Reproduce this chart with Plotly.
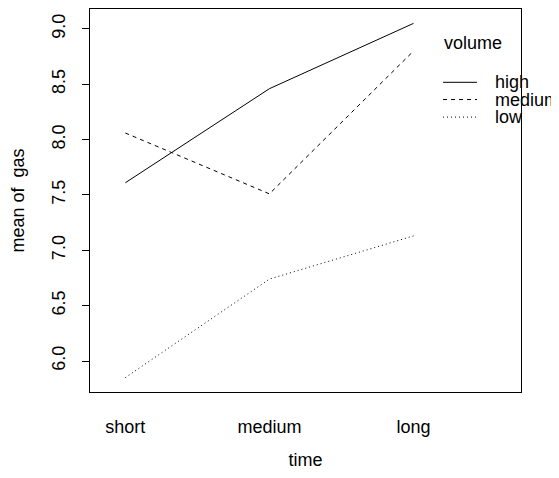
import plotly.graph_objects as go

time_levels = ["short", "medium", "long"]
volume_levels = ["high", "medium", "low"]
high = [7.61, 8.46, 9.05]
medium = [8.06, 7.51, 8.80]
low = [5.85, 6.74, 7.13]
series = [high, medium, low]
dashes = ["solid", "4px,4px", "1px,3px"]
y_ticks = [6.0, 6.5, 7.0, 7.5, 8.0, 8.5, 9.0]

FONT = "Liberation Sans, Arial, Helvetica, sans-serif"
FS = 18

fig = go.Figure()
for name, vals, dash in zip(volume_levels, series, dashes):
    fig.add_trace(go.Scatter(
        x=time_levels, y=vals, mode="lines", name=name,
        line=dict(color="black", width=1, dash=dash),
        showlegend=False, hoverinfo="x+y+name"))

# legend drawn manually (R interaction.plot style)
lx0, lx1, ltx = 0.819, 0.898, 0.934
ly = [0.8086, 0.7636, 0.7177]
shapes = []
annotations = [dict(x=0.8175, y=0.9117, xref="paper", yref="paper", text="volume",
                    showarrow=False, xanchor="left", yanchor="middle",
                    font=dict(family=FONT, size=FS, color="black"))]
for name, dash, yy in zip(volume_levels, dashes, ly):
    shapes.append(dict(type="line", xref="paper", yref="paper", x0=lx0, x1=lx1, y0=yy, y1=yy,
                       line=dict(color="black", width=1, dash=dash)))
    annotations.append(dict(x=ltx, y=yy, xref="paper", yref="paper", text=name,
                            showarrow=False, xanchor="left", yanchor="middle",
                            font=dict(family=FONT, size=FS, color="black")))

fig.update_layout(
    width=551, height=462,
    margin=dict(l=82, r=38, t=0, b=77),
    paper_bgcolor="white", plot_bgcolor="white",
    font=dict(family=FONT, size=FS, color="black"),
    shapes=shapes, annotations=annotations,
    xaxis=dict(
        type="category", categoryorder="array", categoryarray=time_levels,
        range=[-0.245, 2.746], showgrid=False, zeroline=False,
        showline=True, mirror=True, linecolor="black", linewidth=1,
        ticks="", ticklabelstandoff=18,
        title=dict(text="time", standoff=21, font=dict(size=FS)),
    ),
    yaxis=dict(
        range=[5.72, 9.18], showgrid=False, zeroline=False,
        showline=True, mirror=True, linecolor="black", linewidth=1,
        ticks="outside", ticklen=7, tickcolor="black", tickwidth=1,
        tickvals=y_ticks, tickformat=".1f", tickangle=-90,
        ticklabelstandoff=10,
        title=dict(text="mean of  gas", standoff=22, font=dict(size=FS)),
    ),
)

fig.write_html("out.html")
